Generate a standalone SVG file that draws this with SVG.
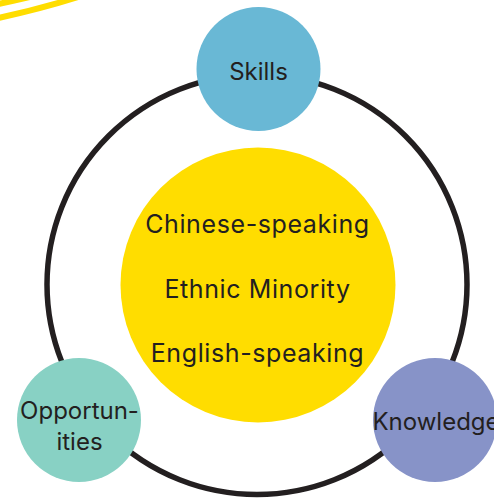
<svg xmlns="http://www.w3.org/2000/svg" width="494" height="501" viewBox="0 0 494 501">
  <style>
    .lbl { font-family: Inter, "Open Sans", "Liberation Sans", sans-serif; font-size: 24px; fill: #231f20; text-anchor: middle; }
    .big { font-size: 25px; letter-spacing: 0.6px; }
    .ring { fill: none; stroke: #231f20; stroke-width: 5.5; }
    .swoosh { fill: none; stroke: #ffdd00; stroke-width: 6; stroke-linecap: butt; }
  </style>

  <!-- decorative swooshes, top-left corner -->
  <path class="swoosh" d="M -2 4 Q 18 0 42 -6"/>
  <path class="swoosh" d="M -2 18 Q 40 9 78 -3"/>

  <!-- connectors: ring joining the three outer nodes -->
  <g id="connectors">
    <circle class="ring" cx="257" cy="284.5" r="210"/>
  </g>

  <g id="center">
    <circle cx="258" cy="285" r="137.5" fill="#ffdd00"/>
    <text class="lbl big" x="257.5" y="233">Chinese-speaking</text>
    <text class="lbl big" x="257.5" y="298">Ethnic Minority</text>
    <text class="lbl big" x="257.5" y="362">English-speaking</text>
  </g>

  <g id="skills">
    <circle cx="258.5" cy="69" r="62" fill="#69b8d5"/>
    <text class="lbl" x="258.5" y="80">Skills</text>
  </g>

  <g id="opportunities">
    <circle cx="79" cy="420" r="62" fill="#88d1c4"/>
    <text class="lbl" x="79.5" y="419">Opportun-</text>
    <text class="lbl" x="79.5" y="450">ities</text>
  </g>

  <g id="knowledge">
    <circle cx="435" cy="420" r="62" fill="#8793c8"/>
    <text class="lbl" x="436" y="430">Knowledge</text>
  </g>
</svg>
